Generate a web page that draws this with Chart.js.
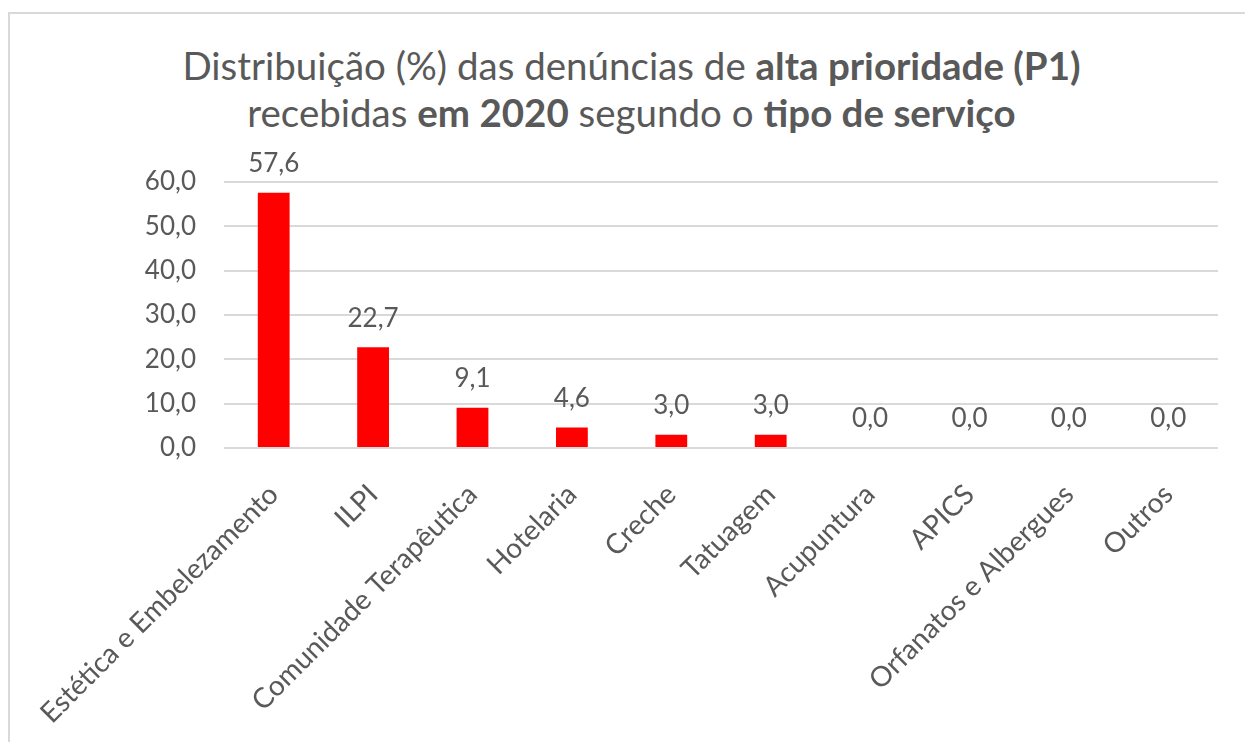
<!DOCTYPE html>
<html>
<head>
<meta charset="utf-8">
<script src="https://cdn.jsdelivr.net/npm/chart.js"></script>
<style>
  html, body { margin: 0; padding: 0; background: #fff; }
  body { width: 1245px; height: 742px; overflow: hidden; position: relative; }
  #frame {
    position: absolute; left: 8px; top: 12px; width: 1300px; height: 800px;
    border: 2px solid #d9d9d9; box-sizing: border-box;
  }
  #title {
    position: absolute; left: 0; top: 42px; width: 1263px;
    text-align: center; color: #595959;
    font-family: Lato, sans-serif; font-size: 38.5px; line-height: 47px;
  }
  #title b { font-weight: bold; }
  #chart { position: absolute; left: 0; top: 0; }
</style>
</head>
<body>
<div id="frame"></div>
<div id="title">Distribuição (%) das denúncias de <b>alta prioridade (P1)</b><br>recebidas <b>em 2020</b> segundo o <b>tipo de serviço</b></div>
<canvas id="chart" width="1245" height="742"></canvas>
<script>
// categories and values
const categories = [
  "Estética e Embelezamento", "ILPI", "Comunidade Terapêutica", "Hotelaria",
  "Creche", "Tatuagem", "Acupuntura", "APICS", "Orfanatos e Albergues", "Outros"
];
const percentages = [57.6, 22.7, 9.1, 4.6, 3.0, 3.0, 0.0, 0.0, 0.0, 0.0];
const yTicks = [0, 10, 20, 30, 40, 50, 60];

const textColor = '#595959';
const fontFamily = 'Lato, sans-serif';

function fmt(v) {
  return v.toFixed(1).replace('.', ',');
}

// value labels above each bar
const barLabels = {
  id: 'barLabels',
  afterDatasetsDraw(chart) {
    const ctx = chart.ctx;
    const meta = chart.getDatasetMeta(0);
    ctx.save();
    ctx.fillStyle = textColor;
    ctx.font = '26px ' + fontFamily;
    ctx.textAlign = 'center';
    ctx.textBaseline = 'middle';
    meta.data.forEach((bar, i) => {
      ctx.fillText(fmt(percentages[i]), bar.x, bar.y - 29);
    });
    ctx.restore();
  }
};

new Chart(document.getElementById('chart'), {
  type: 'bar',
  data: {
    labels: categories,
    datasets: [{
      data: percentages,
      backgroundColor: '#ff0000',
      borderWidth: 0,
      categoryPercentage: 1,
      barPercentage: 0.32
    }]
  },
  options: {
    responsive: false,
    animation: false,
    layout: { padding: { left: 0, right: 27, top: 182, bottom: 0 } },
    plugins: {
      legend: { display: false },
      title: { display: false },
      tooltip: { enabled: false }
    },
    scales: {
      x: {
        grid: { display: false },
        border: { display: false },
        ticks: {
          color: textColor,
          font: { family: fontFamily, size: 28 },
          minRotation: 45,
          maxRotation: 45,
          padding: 22,
          autoSkip: false
        },
        afterFit(scale) { scale.height = 294; }
      },
      y: {
        min: 0,
        max: 60,
        afterBuildTicks(scale) { scale.ticks = yTicks.map(v => ({ value: v })); },
        grid: { color: '#d9d9d9', lineWidth: 2, drawTicks: false },
        border: { display: false },
        ticks: {
          color: textColor,
          font: { family: fontFamily, size: 26 },
          padding: 28,
          callback: v => fmt(v)
        },
        afterFit(scale) { scale.width = 224; }
      }
    }
  },
  plugins: [barLabels]
});
</script>
</body>
</html>
